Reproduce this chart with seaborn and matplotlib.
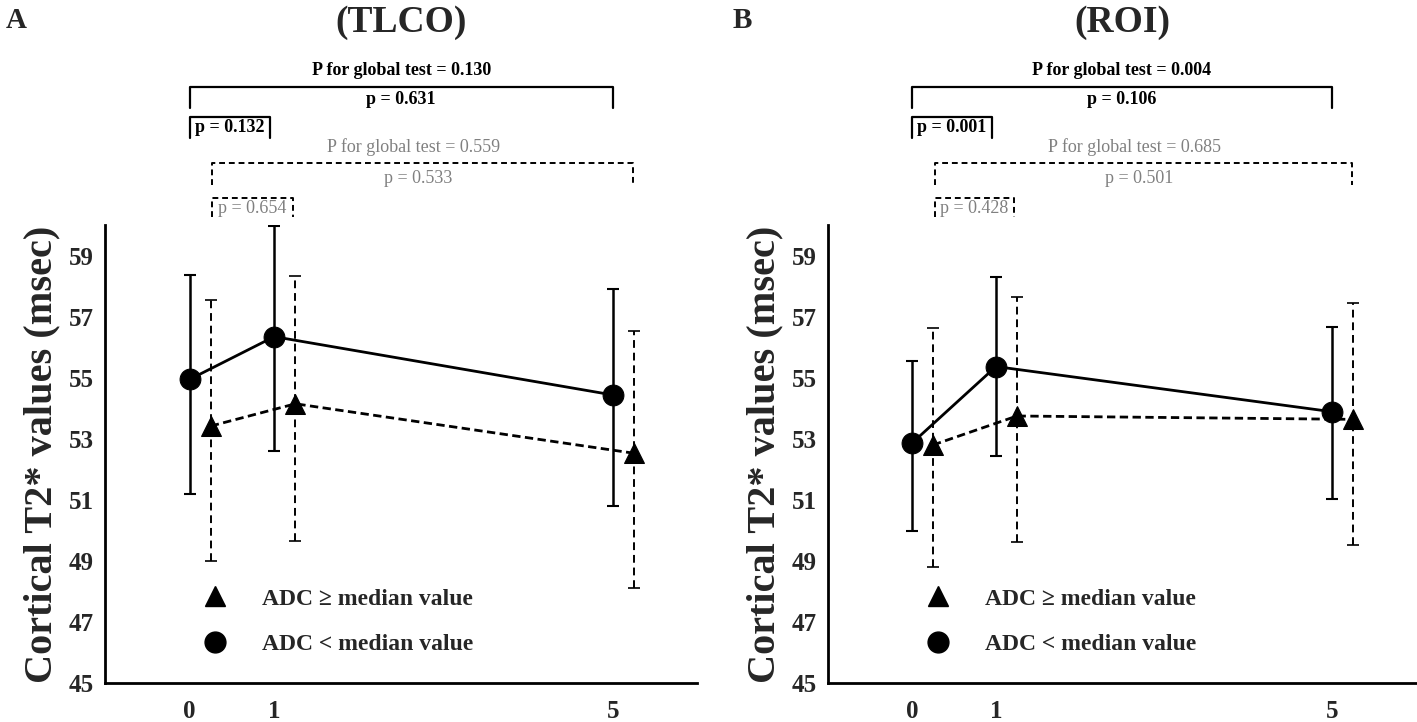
import numpy as np
import pandas as pd
import matplotlib
matplotlib.use("Agg")
import matplotlib.pyplot as plt
import seaborn as sns
from matplotlib.lines import Line2D

# -----------------------------
# DATA
# -----------------------------

times = [0, 1, 5]
offset = 0.25

# panel A (TLCO)
a_low_mean = [54.95, 56.35, 54.44]
a_low_top = [58.38, 59.97, 57.91]
a_low_bot = [51.21, 52.61, 50.80]
a_high_mean = [53.42, 54.15, 52.53]
a_high_top = [57.56, 58.33, 56.54]
a_high_bot = [49.00, 49.66, 48.12]

# panel B (ROI)
b_low_mean = [52.86, 55.37, 53.89]
b_low_top = [55.54, 58.29, 56.68]
b_low_bot = [49.99, 52.45, 51.02]
b_high_mean = [52.80, 53.75, 53.64]
b_high_top = [56.63, 57.65, 57.45]
b_high_bot = [48.79, 49.63, 49.52]

titles = ["(TLCO)", "(ROI)"]
letters = ["A", "B"]
p_black = [("P for global test = 0.130", "p = 0.631", "p = 0.132"),
           ("P for global test = 0.004", "p = 0.106", "p = 0.001")]
p_grey = [("P for global test = 0.559", "p = 0.533", "p = 0.654"),
          ("P for global test = 0.685", "p = 0.501", "p = 0.428")]

yticks = [45, 47, 49, 51, 53, 55, 57, 59]
label_high = "ADC \u2265 median value"
label_low = "ADC < median value"

# -----------------------------
# STYLE
# -----------------------------

sns.set_style("white")
plt.rcParams['font.family'] = ['Liberation Serif', 'DejaVu Serif']
plt.rcParams['font.weight'] = 'bold'

fig = plt.figure(figsize=(14.17, 7.22), dpi=100)
ax_a = fig.add_axes([0.0741, 0.054, 0.418, 0.634])
ax_b = fig.add_axes([0.5843, 0.054, 0.415, 0.634])

panels = [
    (ax_a, a_low_mean, a_low_top, a_low_bot, a_high_mean, a_high_top, a_high_bot),
    (ax_b, b_low_mean, b_low_top, b_low_bot, b_high_mean, b_high_top, b_high_bot),
]

ann_size = 13

for i, (ax, lm, lt, lb, hm, ht, hb) in enumerate(panels):
    x_low = np.array(times, dtype=float)
    x_high = x_low + offset

    df = pd.DataFrame({
        "x": np.concatenate([x_low, x_high]),
        "value": lm + hm,
        "group": ["low"] * 3 + ["high"] * 3,
    })

    # error bars
    ax.errorbar(x_low, lm,
                yerr=[np.array(lm) - np.array(lb), np.array(lt) - np.array(lm)],
                fmt='none', ecolor='black', elinewidth=1.8, capsize=4, capthick=1.5,
                zorder=2)
    eb2 = ax.errorbar(x_high, hm,
                      yerr=[np.array(hm) - np.array(hb), np.array(ht) - np.array(hm)],
                      fmt='none', ecolor='black', elinewidth=1.4, capsize=4, capthick=1.2,
                      zorder=2)
    eb2[2][0].set_linestyle((0, (4, 2.5)))

    sns.lineplot(data=df, x="x", y="value", style="group",
                 markers={"low": "o", "high": "^"},
                 dashes={"low": "", "high": (3, 1.6)},
                 color="black", markersize=15, linewidth=2,
                 markeredgecolor="black", legend=False, ax=ax, zorder=3)

    ax.set_xlim(-1, 6)
    ax.set_ylim(45, 60)
    ax.set_xticks(times)
    ax.set_xticklabels([str(t) for t in times])
    ax.set_yticks(yticks)
    ax.tick_params(axis='both', length=0, labelsize=18)
    ax.tick_params(axis='x', pad=12)
    ax.tick_params(axis='y', pad=8)
    for lab in ax.get_xticklabels() + ax.get_yticklabels():
        lab.set_fontweight('bold')
    ax.set_xlabel("")
    ax.set_ylabel("Cortical T2* values (msec)", fontsize=29, fontweight='bold', labelpad=6)
    for s in ["top", "right"]:
        ax.spines[s].set_visible(False)
    for s in ["left", "bottom"]:
        ax.spines[s].set_color("black")
        ax.spines[s].set_linewidth(2)
    ax.grid(False)

    # title and panel letter
    ax.text(2.5, 66.65, titles[i], ha='center', va='center', fontsize=27,
            fontweight='bold', clip_on=False)
    fig.text(0.004 if i == 0 else 0.517, 0.972, letters[i], fontsize=21,
             fontweight='bold', ha='left', va='center')

    # black brackets (solid)
    g_txt, big_txt, small_txt = p_black[i]
    ax.text(2.5, 65.07, g_txt, ha='center', va='center', fontsize=ann_size,
            fontweight='bold', color='black', clip_on=False)
    ax.plot([0, 0, 5, 5], [63.85, 64.54, 64.54, 63.85], color='black', lw=1.6,
            clip_on=False)
    ax.text(2.5, 64.11, big_txt, ha='center', va='center', fontsize=ann_size,
            fontweight='bold', color='black', clip_on=False)
    ax.plot([0, 0, 0.95, 0.95], [62.87, 63.56, 63.56, 62.87], color='black', lw=1.6,
            clip_on=False)
    ax.text(0.475, 63.2, small_txt, ha='center', va='center', fontsize=ann_size,
            fontweight='bold', color='black', clip_on=False)

    # grey brackets (dashed)
    g_txt, big_txt, small_txt = p_grey[i]
    ax.text(2.65, 62.57, g_txt, ha='center', va='center', fontsize=ann_size,
            fontweight='normal', color='#808080', clip_on=False)
    ax.plot([0.27, 0.27, 5.24, 5.24], [61.33, 62.05, 62.05, 61.33], color='black',
            lw=1.4, ls=(0, (3, 2)), clip_on=False)
    ax.text(2.7, 61.52, big_txt, ha='center', va='center', fontsize=ann_size,
            fontweight='normal', color='#808080', clip_on=False)
    ax.plot([0.27, 0.27, 1.22, 1.22], [60.28, 60.9, 60.9, 60.28], color='black',
            lw=1.4, ls=(0, (3, 2)), clip_on=False)
    ax.text(0.745, 60.54, small_txt, ha='center', va='center', fontsize=ann_size,
            fontweight='normal', color='#808080', clip_on=False)

    # legend
    handles = [
        Line2D([], [], marker='^', color='black', ls='none', markersize=15),
        Line2D([], [], marker='o', color='black', ls='none', markersize=15),
    ]
    ax.legend(handles, [label_high, label_low], loc='lower left',
              bbox_to_anchor=(0.11, 0.015), frameon=False, handletextpad=1.0,
              labelspacing=1.0, prop={'size': 17, 'weight': 'bold'})

fig.savefig("out.png", dpi=100)
